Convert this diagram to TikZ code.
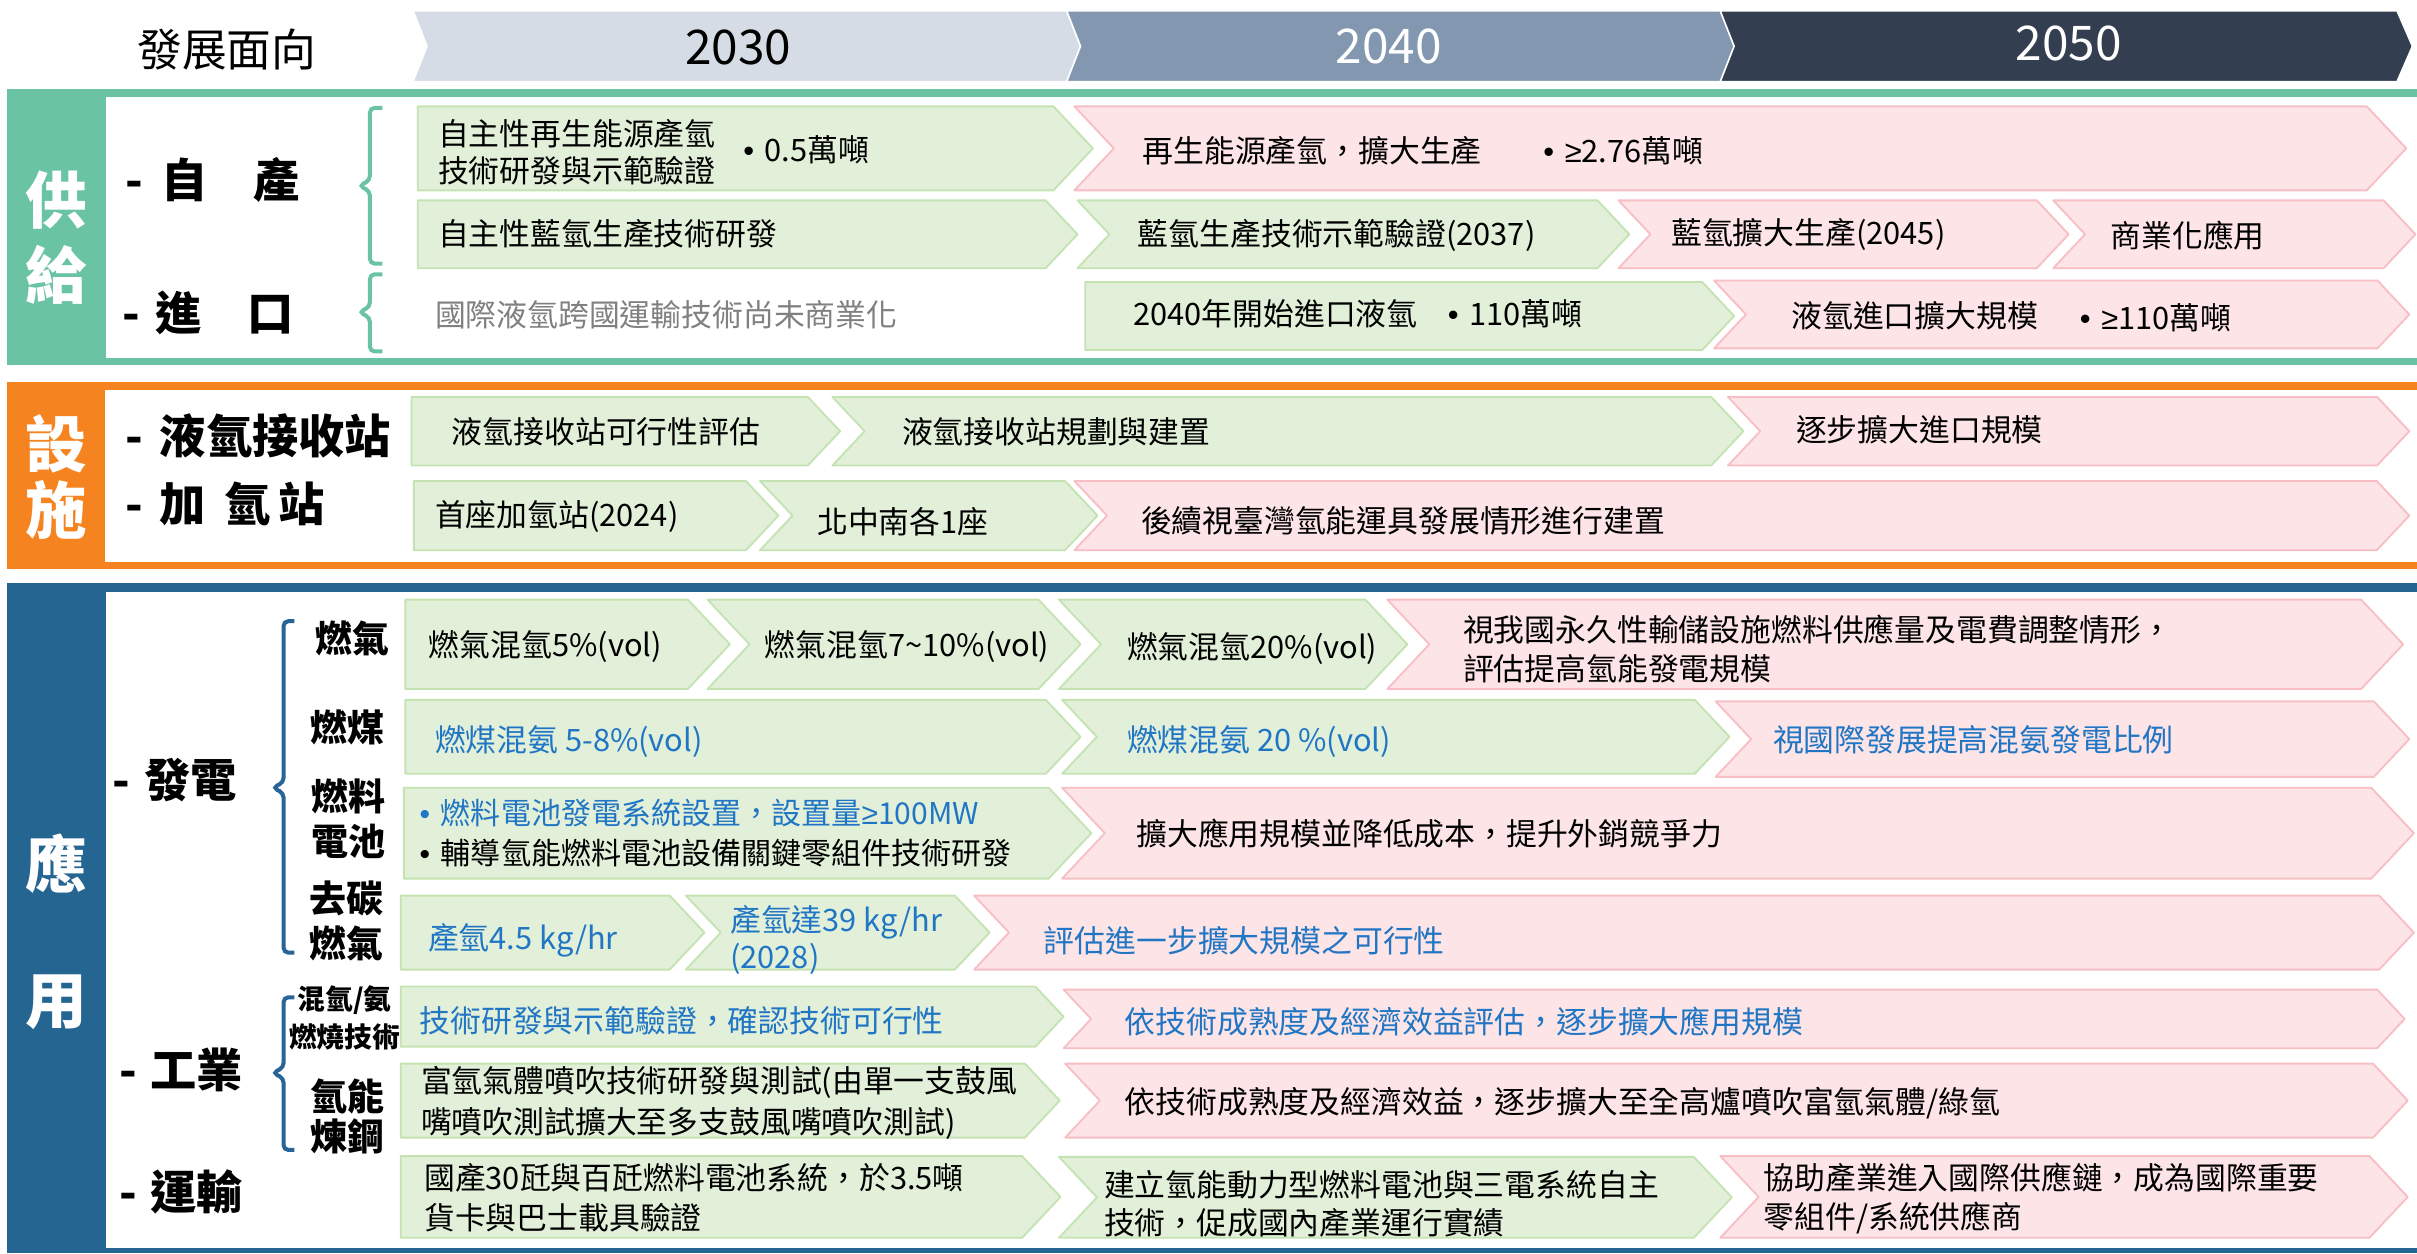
\documentclass[tikz,border=0pt]{standalone}
\usepackage{fontspec}
\setmainfont{Noto Sans CJK TC}
\newfontfamily\latinfont{Liberation Sans}
\newcommand{\bul}{{\latinfont •}\hspace{7pt}}
\newcommand{\gex}{{\latinfont ≥}}
\definecolor{secgreen}{RGB}{106,196,164}
\definecolor{secorange}{RGB}{244,131,32}
\definecolor{secblue}{RGB}{36,101,146}
\definecolor{gfill}{RGB}{226,240,217}
\definecolor{gline}{RGB}{197,227,178}
\definecolor{pfill}{RGB}{253,228,230}
\definecolor{pline}{RGB}{247,190,196}
\definecolor{tblue}{RGB}{32,118,196}
\definecolor{ythirty}{RGB}{214,220,229}
\definecolor{yforty}{RGB}{132,151,176}
\definecolor{yfifty}{RGB}{51,63,80}
\definecolor{graytxt}{RGB}{128,128,128}
\definecolor{braceblue}{RGB}{40,100,150}
\newcommand{\chF}[5]{%
  \pgfmathsetmacro\dd{0.47*(#5-#4)}%
  \pgfmathsetmacro\ym{(#4+#5)/2}%
  \draw[#1] (#2,#4) -- ({#3-\dd},#4) -- (#3,\ym) -- ({#3-\dd},#5) -- (#2,#5) -- cycle;}
\newcommand{\chN}[5]{%
  \pgfmathsetmacro\dd{0.47*(#5-#4)}%
  \pgfmathsetmacro\ym{(#4+#5)/2}%
  \draw[#1] (#2,#4) -- ({#3-\dd},#4) -- (#3,\ym) -- ({#3-\dd},#5) -- (#2,#5) -- ({#2+\dd},\ym) -- cycle;}
\begin{document}
\begin{tikzpicture}[x=1pt,y=-1pt,
  gbox/.style={fill=gfill,draw=gline,line width=1.2pt,line join=round},
  pbox/.style={fill=pfill,draw=pline,line width=1.2pt,line join=round},
  txt/.style={anchor=west,inner sep=0pt,align=left,font=\fontsize{20}{25}\selectfont},
  btxt/.style={txt,text=tblue},
  seclab/.style={inner sep=0pt,text=white,font=\bfseries\fontsize{40}{40}\selectfont},
  grp/.style={anchor=west,inner sep=0pt,font=\bfseries\fontsize{30}{30}\selectfont},
  sublab/.style={inner sep=0pt,align=center,font=\bfseries\fontsize{24}{29}\selectfont},
  bracepath/.style={line width=2.6pt,rounded corners=3pt},
  yr/.style={font=\fontsize{31}{31}\selectfont,inner sep=0pt},
]
\path[use as bounding box,fill=white] (0,0) rectangle (1568,813);

% ---------- header ----------
\node[anchor=west,inner sep=0pt,font=\fontsize{29}{29}\selectfont] (hdr) at (89,32) {發展面向};
\draw[fill=ythirty,draw=white,line width=1pt] (268,7) -- (692,7) -- (701,30) -- (692,53) -- (268,53) -- (277,30) -- cycle;
\draw[fill=yforty,draw=white,line width=1pt] (692,7) -- (1116,7) -- (1125,30) -- (1116,53) -- (692,53) -- (701,30) -- cycle;
\draw[fill=yfifty,draw=white,line width=1pt] (1116,7) -- (1555,7) -- (1565,30) -- (1555,53) -- (1116,53) -- (1125,30) -- cycle;
\node[yr] (y2030) at (479,31) {2030};
\node[yr,text=white] (y2040) at (901,30) {2040};
\node[yr,text=white] (y2050) at (1342,28) {2050};

% ---------- section frames ----------
\fill[secgreen] (4.5,58) rectangle (1568,237);
\fill[white] (69,63) rectangle (1568,232);
\fill[secorange] (4.5,248) rectangle (1568,369);
\fill[white] (68,253) rectangle (1568,364.5);
\fill[secblue] (4.5,378) rectangle (1568,813);
\fill[white] (69,384) rectangle (1568,809.5);

\node[seclab] (s1a) at (36.5,129.5) {供};
\node[seclab] (s1b) at (36.5,178.5) {給};
\node[seclab] (s2a) at (36.5,288) {設};
\node[seclab] (s2b) at (36.5,331) {施};
\node[seclab] (s3a) at (36.5,560) {應};
\node[seclab] (s3b) at (36.5,650) {用};

% ---------- supply ----------
\node[grp] (gzc) at (81,117) {-\hspace{12pt}自\hspace{30pt}產};
\node[grp] (gjk) at (79,203) {-\hspace{10pt}進\hspace{30pt}口};
\draw[bracepath,secgreen] (248,70) -- (240,70) -- (240,117) -- (233,120.5) -- (240,124) -- (240,171) -- (248,171);
\draw[bracepath,secgreen] (248,178) -- (240,178) -- (240,199) -- (233,202.5) -- (240,206) -- (240,228) -- (248,228);

\chF{gbox}{271}{709}{69}{123.5}
\chN{pbox}{697}{1561}{69}{123.5}
\chF{gbox}{271}{699}{130}{174}
\chN{gbox}{699}{1057}{130}{174}
\chN{pbox}{1050}{1342}{130}{174}
\chN{pbox}{1332}{1567}{130}{174}
\chF{gbox}{704}{1125}{183}{227}
\chN{pbox}{1112}{1563}{182}{226}

\node[txt,font=\fontsize{20}{24}\selectfont] (a1) at (284,98.5) {自主性再生能源產氫\\技術研發與示範驗證};
\node[txt] (a1b) at (482,97) {\bul 0.5萬噸};
\node[txt] (b1) at (741,98) {再生能源產氫，擴大生產};
\node[txt] (b1b) at (1001,98) {\bul \gex2.76萬噸};
\node[txt] (a2) at (284,152) {自主性藍氫生產技術研發};
\node[txt] (b2) at (738,152.5) {藍氫生產技術示範驗證(2037)};
\node[txt] (c2) at (1084,152) {藍氫擴大生產(2045)};
\node[txt] (d2) at (1369,152.5) {商業化應用};
\node[txt,text=graytxt] (a3) at (282,204) {國際液氫跨國運輸技術尚未商業化};
\node[txt] (b3) at (735,203.5) {2040年開始進口液氫};
\node[txt] (b3b) at (939,203.5) {\bul 110萬噸};
\node[txt] (c3) at (1162,205) {液氫進口擴大規模};
\node[txt] (c3b) at (1349,206) {\bul \gex110萬噸};

% ---------- facilities ----------
\node[grp] (gls) at (81,283) {-\hspace{11pt}液氫接收站};
\node[grp] (gjq) at (81,327) {-\hspace{11pt}加\hspace{12pt}氫\hspace{5pt}站};

\chF{gbox}{267}{545}{257.5}{302}
\chN{gbox}{540}{1131}{257.5}{302}
\chN{pbox}{1121}{1563}{257.5}{302}
\chF{gbox}{268.5}{505}{312}{357}
\chN{gbox}{493}{712}{312}{357}
\chN{pbox}{697}{1563}{312}{357}

\node[txt] (e1) at (293,280) {液氫接收站可行性評估};
\node[txt] (e2) at (585,280) {液氫接收站規劃與建置};
\node[txt] (e3) at (1165,279) {逐步擴大進口規模};
\node[txt] (f1) at (282,335) {首座加氫站(2024)};
\node[txt] (f2) at (530,338.5) {北中南各1座};
\node[txt] (f3) at (740,338) {後續視臺灣氫能運具發展情形進行建置};

% ---------- application: power ----------
\node[grp] (gfd) at (73,506) {-\hspace{9pt}發電};
\draw[bracepath,braceblue] (191,403) -- (184,403) -- (184,507.5) -- (177,511) -- (184,514.5) -- (184,618) -- (191,618);
\node[sublab] (l1) at (228.5,414) {燃氣};
\node[sublab] (l2) at (225.5,472) {燃煤};
\node[sublab] (l3) at (226,531) {燃料\\電池};
\node[sublab] (l4) at (225,597.5) {去碳\\燃氣};

\chF{gbox}{263}{473.5}{389}{447}
\chN{gbox}{459}{701}{389}{447}
\chN{gbox}{687}{913}{389}{447}
\chN{pbox}{900}{1559}{389}{447}
\chF{gbox}{263}{701}{454}{502}
\chN{gbox}{689}{1122}{454}{502}
\chN{pbox}{1113}{1563}{455}{504}
\chF{gbox}{262}{708}{511}{570}
\chN{pbox}{689}{1566}{511}{570}
\chF{gbox}{260}{457}{581}{629}
\chN{gbox}{445}{642}{581}{629}
\chN{pbox}{632}{1566}{581}{629}

\node[txt] (g1) at (278,419.5) {燃氣混氫5\%(vol)};
\node[txt] (g2) at (496,419.5) {燃氣混氫7\textasciitilde 10\%(vol)};
\node[txt] (g3) at (731,420.5) {燃氣混氫20\%(vol)};
\node[txt] (g4) at (949,421) {視我國永久性輸儲設施燃料供應量及電費調整情形，\\評估提高氫能發電規模};
\node[btxt] (h1) at (282,481) {燃煤混氨 5-8\%(vol)};
\node[btxt] (h2) at (731,481) {燃煤混氨 20 \%(vol)};
\node[btxt] (h3) at (1150,480) {視國際發展提高混氨發電比例};
\node[txt,font=\fontsize{19.5}{26}\selectfont] (i1) at (272,540.5) {{\color{tblue}\bul 燃料電池發電系統設置，設置量\gex100MW}\\\bul 輔導氫能燃料電池設備關鍵零組件技術研發};
\node[txt] (i2) at (737,540.5) {擴大應用規模並降低成本，提升外銷競爭力};
\node[btxt] (j1) at (277.5,610) {產氫4.5 kg/hr};
\node[btxt,font=\fontsize{20}{24}\selectfont] (j2) at (473.5,610) {產氫達39 kg/hr\\(2028)};
\node[btxt] (j3) at (677,610) {評估進一步擴大規模之可行性};

% ---------- application: industry ----------
\node[grp] (ggy) at (77,694) {-\hspace{9pt}工業};
\draw[bracepath,braceblue] (191,647) -- (184,647) -- (184,692.5) -- (177,696) -- (184,699.5) -- (184,746) -- (191,746);
\node[sublab,font=\bfseries\fontsize{18}{25}\selectfont] (l5) at (223.5,660.5) {混氫/氨\\燃燒技術};
\node[sublab,font=\bfseries\fontsize{24}{26}\selectfont] (l6) at (225.5,724) {氫能\\煉鋼};

\chF{gbox}{260}{690}{640}{679}
\chN{pbox}{690}{1560}{642}{680}
\chF{gbox}{260}{687.5}{690}{738}
\chN{pbox}{691}{1562}{690}{738}

\node[btxt] (k1) at (272,662) {技術研發與示範驗證，確認技術可行性};
\node[btxt] (k2) at (729.5,663) {依技術成熟度及經濟效益評估，逐步擴大應用規模};
\node[txt,font=\fontsize{20}{26}\selectfont] (m1) at (273,715.5) {富氫氣體噴吹技術研發與測試(由單一支鼓風\\嘴噴吹測試擴大至多支鼓風嘴噴吹測試)};
\node[txt] (m2) at (729.5,715.5) {依技術成熟度及經濟效益，逐步擴大至全高爐噴吹富氫氣體/綠氫};

% ---------- application: transport ----------
\node[grp] (gys) at (77,773) {-\hspace{9pt}運輸};
\chF{gbox}{260}{688}{750}{803}
\chN{gbox}{687}{1123.5}{750.5}{803}
\chN{pbox}{1116}{1562}{750}{803}

\node[txt,font=\fontsize{20}{26}\selectfont] (n1) at (275,777) {國產30瓩與百瓩燃料電池系統，於3.5噸\\貨卡與巴士載具驗證};
\node[txt,font=\fontsize{20}{25}\selectfont] (n2) at (716,781) {建立氫能動力型燃料電池與三電系統自主\\技術，促成國內產業運行實績};
\node[txt,font=\fontsize{20}{25}\selectfont] (n3) at (1144,777.5) {協助產業進入國際供應鏈，成為國際重要\\零組件/系統供應商};
\end{tikzpicture}
\end{document}
